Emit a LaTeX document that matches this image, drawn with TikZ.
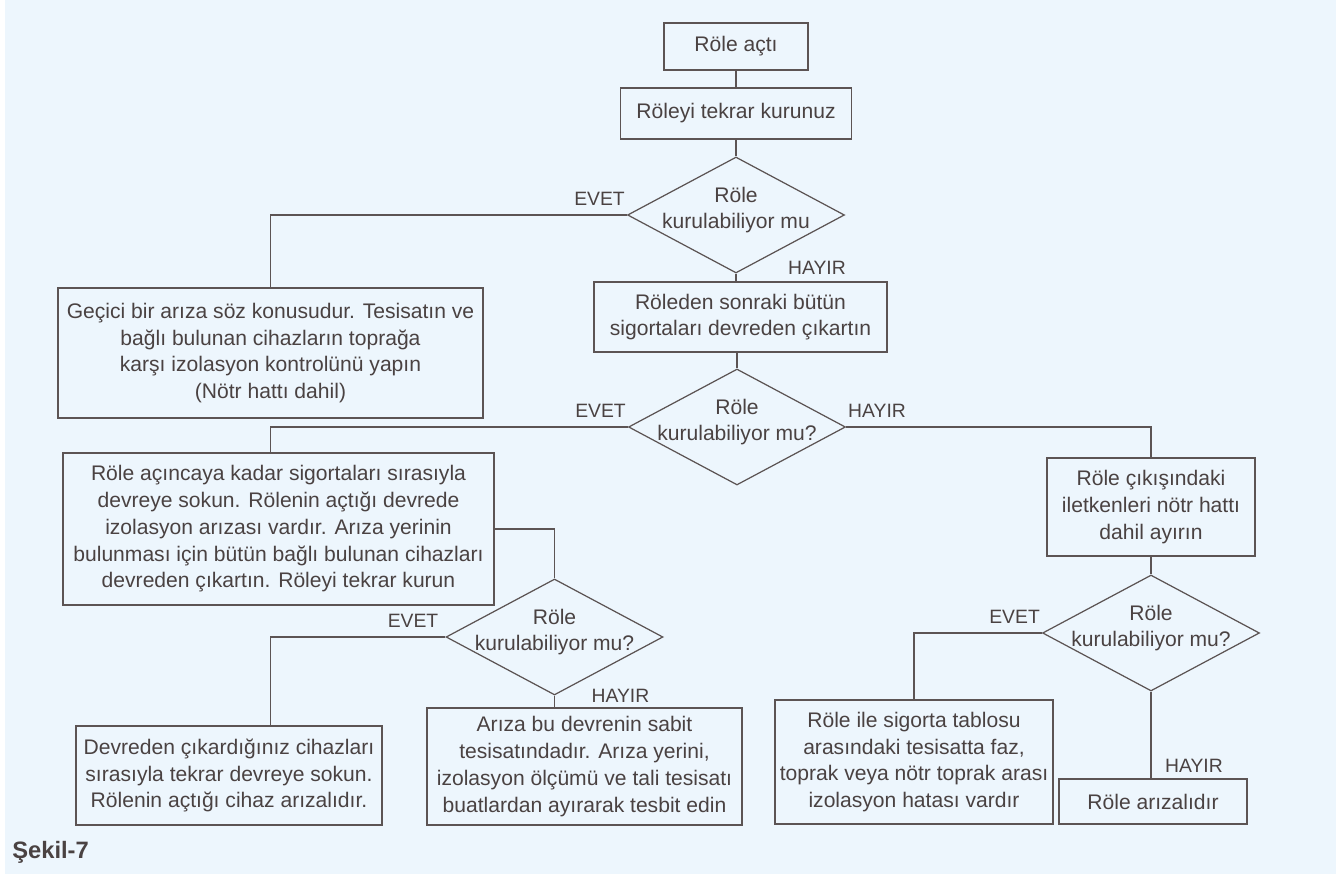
\documentclass[tikz,border=0pt]{standalone}
\usepackage{fontspec}
\setmainfont{Liberation Sans}
\usetikzlibrary{shapes.geometric, positioning}
\definecolor{zemin}{RGB}{237,246,253}
\definecolor{cizgi}{RGB}{92,84,84}
\definecolor{yazi}{RGB}{74,66,66}

\begin{document}
\begin{tikzpicture}[
  x=0.02cm, y=-0.02cm,
  kutu/.style={draw=cizgi, line width=0.7pt, text=yazi, align=center, inner sep=1pt, font=\fontsize{12}{15.2}\selectfont},
  soru/.style={diamond, draw=cizgi, line width=0.7pt, minimum width=4.34cm, minimum height=2.32cm, inner sep=0pt},
  soruyazi/.style={text=yazi, align=center, font=\fontsize{12}{15.2}\selectfont, yshift=0.1cm},
  cevap/.style={text=yazi, inner sep=1pt, font=\fontsize{11}{13}\selectfont},
  hat/.style={draw=cizgi, line width=0.7pt}
]
  \useasboundingbox (0,0) rectangle (1336,874);
  \fill[zemin] (5,0) rectangle (1336,874);

  % top of the chart
  \node[kutu, minimum width=2.88cm, minimum height=0.94cm] (acti) at (736,46.5) {Röle açtı};
  \node[kutu, minimum width=4.62cm, minimum height=1.02cm] (kur) at (736,113.5) {Röleyi tekrar kurunuz};
  \node[soru, label={[soruyazi]center:Röle\\kurulabiliyor mu}] (q1) at (736,215) {};

  % first answer
  \node[kutu, minimum width=8.5cm, minimum height=2.6cm] (gecici) at (270.5,353)
    {Geçici bir arıza söz konusudur. Tesisatın ve\\bağlı bulunan cihazların toprağa\\karşı izolasyon kontrolünü yapın\\(Nötr hattı dahil)};
  \node[kutu, minimum width=5.86cm, minimum height=1.4cm] (sonraki) at (740.5,317)
    {Röleden sonraki bütün\\sigortaları devreden çıkartın};
  \node[soru, label={[soruyazi]center:Röle\\kurulabiliyor mu?}] (q2) at (737,427) {};

  % left branch
  \node[kutu, minimum width=8.62cm, minimum height=3.04cm] (acinca) at (278.5,529)
    {Röle açıncaya kadar sigortaları sırasıyla\\devreye sokun. Rölenin açtığı devrede\\izolasyon arızası vardır. Arıza yerinin\\bulunması için bütün bağlı bulunan cihazları\\devreden çıkartın. Röleyi tekrar kurun};
  \node[soru, label={[soruyazi]center:Röle\\kurulabiliyor mu?}] (q3) at (554.5,637) {};
  \node[kutu, minimum width=6.12cm, minimum height=1.98cm] (devreden) at (229,775.5)
    {Devreden çıkardığınız cihazları\\sırasıyla tekrar devreye sokun.\\Rölenin açtığı cihaz arızalıdır.};
  \node[kutu, minimum width=6.3cm, minimum height=2.34cm] (sabit) at (584.5,766.5)
    {Arıza bu devrenin sabit\\tesisatındadır. Arıza yerini,\\izolasyon ölçümü ve tali tesisatı\\buatlardan ayırarak tesbit edin};

  % right branch
  \node[kutu, minimum width=4.16cm, minimum height=1.96cm] (cikis) at (1151,507)
    {Röle çıkışındaki\\iletkenleri nötr hattı\\dahil ayırın};
  \node[soru, label={[soruyazi]center:Röle\\kurulabiliyor mu?}] (q4) at (1151,633) {};
  \node[kutu, minimum width=5.56cm, minimum height=2.48cm] (tablo) at (914,762)
    {Röle ile sigorta tablosu\\arasındaki tesisatta faz,\\toprak veya nötr toprak arası\\izolasyon hatası vardır};
  \node[kutu, minimum width=3.76cm, minimum height=0.9cm] (arizali) at (1153,801.5) {Röle arızalıdır};

  % connectors
  \draw[hat] (acti.south) -- (kur.north);
  \draw[hat] (kur.south) -- (q1.north);
  \draw[hat] (q1.west) -| (gecici.north);
  \draw[hat] (q1.south) -- (q1.south |- sonraki.north);
  \draw[hat] (sonraki.south -| q2.north) -- (q2.north);
  \draw[hat] (q2.west) -| (gecici.north |- acinca.north);
  \draw[hat] (q2.east) -| (cikis.north);
  \draw[hat] (acinca.east) -| (q3.north);
  \draw[hat] (q3.west) -| (gecici.north |- devreden.north);
  \draw[hat] (q3.south) -- (q3.south |- sabit.north);
  \draw[hat] (cikis.south) -- (q4.north);
  \draw[hat] (q4.west) -| (tablo.north);
  \draw[hat] (q4.south) -- (q4.south |- arizali.north);

  % answers
  \node[cevap, above left=0.14cm and 0cm of q1.west] (e1) {EVET};
  \node[cevap, right=1cm of q1.south, yshift=0.12cm] (h1) {HAYIR};
  \node[cevap, above left=0.14cm and 0cm of q2.west] (e2) {EVET};
  \node[cevap, above right=0.14cm and 0cm of q2.east] (h2) {HAYIR};
  \node[cevap, above left=0.14cm and 0.1cm of q3.west] (e3) {EVET};
  \node[cevap, right=0.7cm of q3.south] (h3) {HAYIR};
  \node[cevap, above left=0.14cm and 0cm of q4.west] (e4) {EVET};
  \node[cevap, above right=0.08cm and 0.2cm of arizali.north] (h4) {HAYIR};

  \node[anchor=west, inner sep=0pt, text=yazi, font=\bfseries\fontsize{13.5}{16}\selectfont] (sekil) at (12,852) {Şekil-7};
\end{tikzpicture}
\end{document}
